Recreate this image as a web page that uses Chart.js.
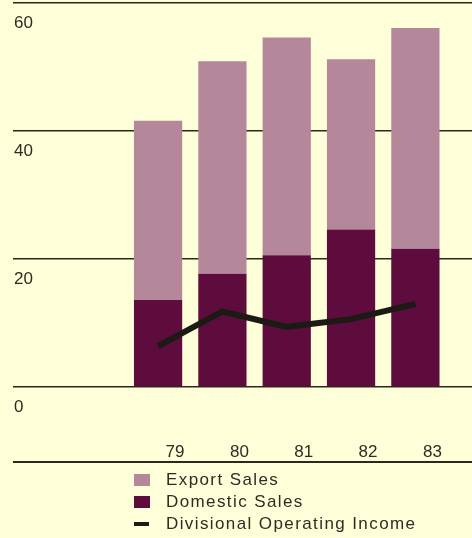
<!DOCTYPE html>
<html>
<head>
<meta charset="utf-8">
<script src="https://cdn.jsdelivr.net/npm/chart.js@4.4.1/dist/chart.umd.min.js"></script>
<style>
  html, body { margin: 0; padding: 0; background: #fefed9; }
  body { width: 472px; height: 538px; position: relative; overflow: hidden; font-family: "Liberation Sans", Arial, sans-serif; }
  #wrap { position: absolute; left: 0; top: 0; width: 472px; height: 470px; }
  #legend { position: absolute; left: 134px; top: 469px; }
  .lg-row { height: 22px; display: flex; align-items: center; color: #2e2c24; font-size: 17px; letter-spacing: 1.4px; }
  .lg-key { width: 32px; display: flex; align-items: center; }
  .lg-box { width: 16px; height: 12px; }
  .lg-line { width: 15px; height: 4px; }
</style>
</head>
<body>
<div id="wrap"><canvas id="chart"></canvas></div>
<div id="legend"></div>
<script>
/* ===== SALES / OPERATING INCOME CHART ===== */
const years = ['79', '80', '81', '82', '83'];
const domesticSales = [13.6, 17.7, 20.6, 24.6, 21.6];
const exportSales = [28.0, 33.2, 34.0, 26.6, 34.5];
const operatingIncome = [6.4, 11.8, 9.4, 10.6, 13.0];
const yTicks = [0, 20, 40, 60];

const INK = '#2a281f';
const pts = arr => arr.map((v, i) => ({ x: i, y: v }));

// bottom rule under the year labels
const baseRule = {
  id: 'baseRule',
  afterDraw(chart) {
    const { ctx, scales: { x }, chartArea } = chart;
    ctx.save();
    ctx.strokeStyle = INK; ctx.lineWidth = 2;
    ctx.beginPath();
    ctx.moveTo(chartArea.left, x.bottom); ctx.lineTo(chart.width, x.bottom);
    ctx.stroke();
    ctx.restore();
  }
};

const chart = new Chart(document.getElementById('chart'), {
  type: 'bar',
  data: {
    datasets: [
      { label: 'Domestic Sales', data: pts(domesticSales), backgroundColor: '#5e0b3e', stack: 'sales', order: 1,
        barPercentage: 0.75, categoryPercentage: 1 },
      { label: 'Export Sales', data: pts(exportSales), backgroundColor: '#b5879a', stack: 'sales', order: 1,
        barPercentage: 0.75, categoryPercentage: 1 },
      { type: 'line', label: 'Divisional Operating Income', data: pts(operatingIncome), stack: 'income', order: 0,
        borderColor: '#1c1a14', borderWidth: 6, pointRadius: 0, tension: 0, fill: false }
    ]
  },
  options: {
    responsive: true, maintainAspectRatio: false, animation: false,
    layout: { padding: { left: 13, top: 3, right: 0, bottom: 8 } },
    plugins: { legend: { display: false }, tooltip: { enabled: false } },
    scales: {
      x: {
        type: 'linear', stacked: true, min: -2.255, max: 4.88, offset: false,
        afterBuildTicks: s => { s.ticks = years.map((_, i) => ({ value: i })); },
        afterFit: s => { s.height = 75; s.paddingLeft = 0; s.paddingRight = 0; },
        grid: { display: false, offset: false }, border: { display: false },
        ticks: { callback: v => years[v], padding: 47, labelOffset: 17, maxRotation: 0,
                 color: '#2e2c24', font: { family: 'Liberation Sans', size: 17 } }
      },
      y: {
        stacked: true, min: 0, max: 60,
        afterBuildTicks: s => { s.ticks = yTicks.map(v => ({ value: v })); },
        afterFit: s => { s.width = 0; s.paddingTop = 0; s.paddingBottom = 0; },
        grid: { color: INK, lineWidth: 1.5, drawTicks: false }, border: { display: false },
        ticks: { mirror: true, padding: 1, labelOffset: 20,
                 color: '#2e2c24', font: { family: 'Liberation Sans', size: 17 } }
      }
    }
  },
  plugins: [baseRule]
});

// legend: export, domestic, income
const legendEl = document.getElementById('legend');
[1, 0, 2].forEach(i => {
  const ds = chart.data.datasets[i];
  const key = ds.type === 'line'
    ? `<span class="lg-line" style="background:${ds.borderColor}"></span>`
    : `<span class="lg-box" style="background:${ds.backgroundColor}"></span>`;
  legendEl.insertAdjacentHTML('beforeend', `<div class="lg-row"><span class="lg-key">${key}</span>${ds.label}</div>`);
});
</script>
</body>
</html>
